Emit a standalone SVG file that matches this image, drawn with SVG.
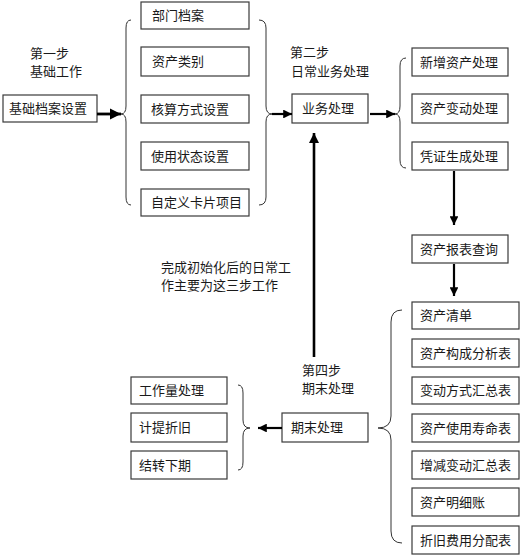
<svg xmlns="http://www.w3.org/2000/svg" width="521" height="557" viewBox="0 0 521 557">
<style>
.box rect{fill:#fff;stroke:#3a3a3a;stroke-width:1.2}
text{font-family:"Liberation Sans","Noto Sans CJK SC",sans-serif;font-size:13px;fill:#1a1a1a;dominant-baseline:central}
.ar{stroke:#000;stroke-width:2.2;fill:none;marker-end:url(#ah)}
.br{stroke:#333;stroke-width:1;fill:none}
</style>
<defs>
<marker id="ah" viewBox="0 0 10 10" refX="10" refY="5" markerWidth="4" markerHeight="4" orient="auto" markerUnits="strokeWidth">
<path d="M0,0 L10,5 L0,10 z" fill="#000"/>
</marker>
</defs>
<rect width="521" height="557" fill="#fff"/>

<g id="labels">
<text x="30" y="53">第一步</text>
<text x="30" y="71">基础工作</text>
<text x="290" y="52">第二步</text>
<text x="291" y="71">日常业务处理</text>
<text x="302" y="370">第四步</text>
<text x="302" y="388">期末处理</text>
<text x="161" y="267">完成初始化后的日常工</text>
<text x="161" y="285">作主要为这三步工作</text>
</g>

<g id="n-jichu" class="box"><rect x="3" y="95" width="94" height="27"/><text x="9" y="108.5">基础档案设置</text></g>
<g id="n-bumen" class="box"><rect x="141" y="2" width="108" height="27"/><text x="152" y="15.5">部门档案</text></g>
<g id="n-leibie" class="box"><rect x="141" y="47" width="108" height="29"/><text x="152" y="61.5">资产类别</text></g>
<g id="n-hesuan" class="box"><rect x="141" y="95" width="108" height="28"/><text x="151" y="109">核算方式设置</text></g>
<g id="n-zhuangtai" class="box"><rect x="141" y="142" width="108" height="28"/><text x="151" y="156">使用状态设置</text></g>
<g id="n-kapian" class="box"><rect x="141" y="189" width="108" height="27"/><text x="151" y="202.5">自定义卡片项目</text></g>

<g id="n-yewu" class="box"><rect x="292" y="94" width="76" height="29"/><text x="302" y="108.5">业务处理</text></g>
<g id="n-xinzeng" class="box"><rect x="412" y="48" width="96" height="28"/><text x="420" y="62">新增资产处理</text></g>
<g id="n-biandong" class="box"><rect x="412" y="94" width="96" height="29"/><text x="420" y="108.5">资产变动处理</text></g>
<g id="n-pingzheng" class="box"><rect x="412" y="142" width="96" height="28"/><text x="420" y="156">凭证生成处理</text></g>
<g id="n-baobiao" class="box"><rect x="412" y="235" width="96" height="28"/><text x="420" y="249">资产报表查询</text></g>

<g id="n-qingdan" class="box"><rect x="412" y="302" width="107" height="27"/><text x="420" y="315.5">资产清单</text></g>
<g id="n-goucheng" class="box"><rect x="412" y="339" width="107" height="28"/><text x="420" y="353">资产构成分析表</text></g>
<g id="n-fangshi" class="box"><rect x="412" y="377" width="107" height="27"/><text x="420" y="390.5">变动方式汇总表</text></g>
<g id="n-shouming" class="box"><rect x="412" y="414" width="107" height="28"/><text x="420" y="428">资产使用寿命表</text></g>
<g id="n-zengjian" class="box"><rect x="412" y="451" width="107" height="28"/><text x="420" y="465">增减变动汇总表</text></g>
<g id="n-mingxi" class="box"><rect x="412" y="488" width="107" height="28"/><text x="420" y="502">资产明细账</text></g>
<g id="n-zhejiu" class="box"><rect x="412" y="526" width="107" height="28"/><text x="420" y="540">折旧费用分配表</text></g>

<g id="n-qimo" class="box"><rect x="282" y="413" width="86" height="29"/><text x="291" y="427.5">期末处理</text></g>
<g id="n-gongzuoliang" class="box"><rect x="131" y="377" width="96" height="27"/><text x="139" y="390.5">工作量处理</text></g>
<g id="n-jiti" class="box"><rect x="131" y="413" width="96" height="29"/><text x="139" y="427.5">计提折旧</text></g>
<g id="n-jiezhuan" class="box"><rect x="131" y="451" width="96" height="28"/><text x="139" y="465">结转下期</text></g>

<g id="connectors">
<path class="br" d="M131,20 Q126,20 126,28 L126,106 Q126,114 121,114 Q126,114 126,122 L126,197 Q126,205 131,205"/>
<path class="br" d="M259,20 Q266,20 266,28 L266,106 Q266,114 272,114 Q266,114 266,122 L266,197 Q266,205 259,205"/>
<path class="br" d="M406,58 Q400,58 400,66 L400,106 Q400,114 395,114 Q400,114 400,122 L400,160 Q400,168 406,168"/>
<path class="br" d="M402,310 Q391,310 391,322 L391,416 Q391,428 378,428 Q391,428 391,440 L391,531 Q391,543 402,543"/>
<path class="br" d="M238,385 Q243,385 243,393 L243,420 Q243,428 250,428 Q243,428 243,436 L243,462 Q243,470 238,470"/>
<path class="ar" d="M97,114 L121,114" style="stroke-width:2.8"/>
<path class="ar" d="M272,114 L292,114"/>
<path class="ar" d="M370,114 L395,114"/>
<path class="ar" d="M454,171 L454,225"/>
<path class="ar" d="M454,264 L454,296"/>
<path class="ar" d="M314,357 L314,133" style="stroke-width:2.6"/>
<path class="ar" d="M282,428 L258,428"/>
</g>
</svg>
